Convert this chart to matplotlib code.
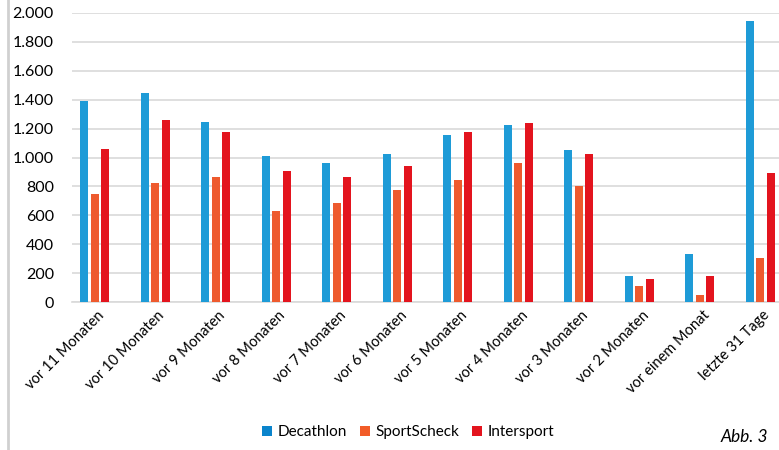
import matplotlib
matplotlib.use("Agg")
import matplotlib.pyplot as plt
import numpy as np
from matplotlib.ticker import FuncFormatter
from matplotlib.lines import Line2D
from matplotlib.patches import Patch

categories = ["vor 11 Monaten", "vor 10 Monaten", "vor 9 Monaten", "vor 8 Monaten",
              "vor 7 Monaten", "vor 6 Monaten", "vor 5 Monaten", "vor 4 Monaten",
              "vor 3 Monaten", "vor 2 Monaten", "vor einem Monat", "letzte 31 Tage"]
decathlon = [1390, 1445, 1245, 1010, 962, 1025, 1155, 1222, 1055, 180, 333, 1948]
sportscheck = [748, 826, 866, 630, 685, 775, 845, 962, 800, 108, 50, 303]
intersport = [1060, 1258, 1178, 906, 862, 942, 1175, 1242, 1025, 162, 180, 890]
series_names = ["Decathlon", "SportScheck", "Intersport"]
colors = ["#1E9BD7", "#EE5A2E", "#E3141E"]
legend_colors = ["#0A84CC", "#F25C28", "#E3141E"]

plt.rcParams['font.family'] = ['Lato', 'DejaVu Sans']

W, H = 779, 450
fig = plt.figure(figsize=(W/100, H/100), dpi=100)
ax = fig.add_axes([72/W, 1-302/H, (W-72)/W, (302-13)/H])

x = np.arange(len(categories))
bw = 0.132
off = 0.172
for i, (vals, c) in enumerate(zip([decathlon, sportscheck, intersport], colors)):
    ax.bar(x + (i-1)*off, vals, width=bw, color=c, zorder=3)

ax.set_xlim(-0.375, 11.31)
ax.set_ylim(0, 2000)
ax.set_yticks(np.arange(0, 2001, 200))
ax.yaxis.set_major_formatter(FuncFormatter(lambda v, p: f"{int(v):,}".replace(",", ".")))
ax.grid(axis='y', color='#D9D9D9', linewidth=1.2, zorder=0)
for s in ['top', 'right', 'left']:
    ax.spines[s].set_visible(False)
ax.spines['bottom'].set_color('#D9D9D9')
ax.spines['bottom'].set_linewidth(1.2)
ax.tick_params(axis='y', length=0, pad=13, labelsize=11.5, labelcolor='#000000')
ax.tick_params(axis='x', length=0, pad=8, labelsize=10.5)
ax.set_xticks(x + 0.12)
ax.set_xticklabels(categories, rotation=45, ha='right', rotation_mode='anchor', va='center')

# left border line of figure
fig.add_artist(Line2D([8/W, 8/W], [0, 1], color='#D0D0D0', linewidth=2))

handles = [Patch(facecolor=c, edgecolor='none') for c in legend_colors]
fig.legend(handles, series_names, loc='center', bbox_to_anchor=(408/W, 1-432/H),
           ncol=3, frameon=False, fontsize=11, handlelength=0.65, handleheight=0.65,
           handletextpad=0.35, columnspacing=0.85)

fig.text(768/W, 1-437/H, "Abb. 3", ha='right', va='center', fontsize=12.5, style='italic')

fig.savefig("out.png", dpi=100)
